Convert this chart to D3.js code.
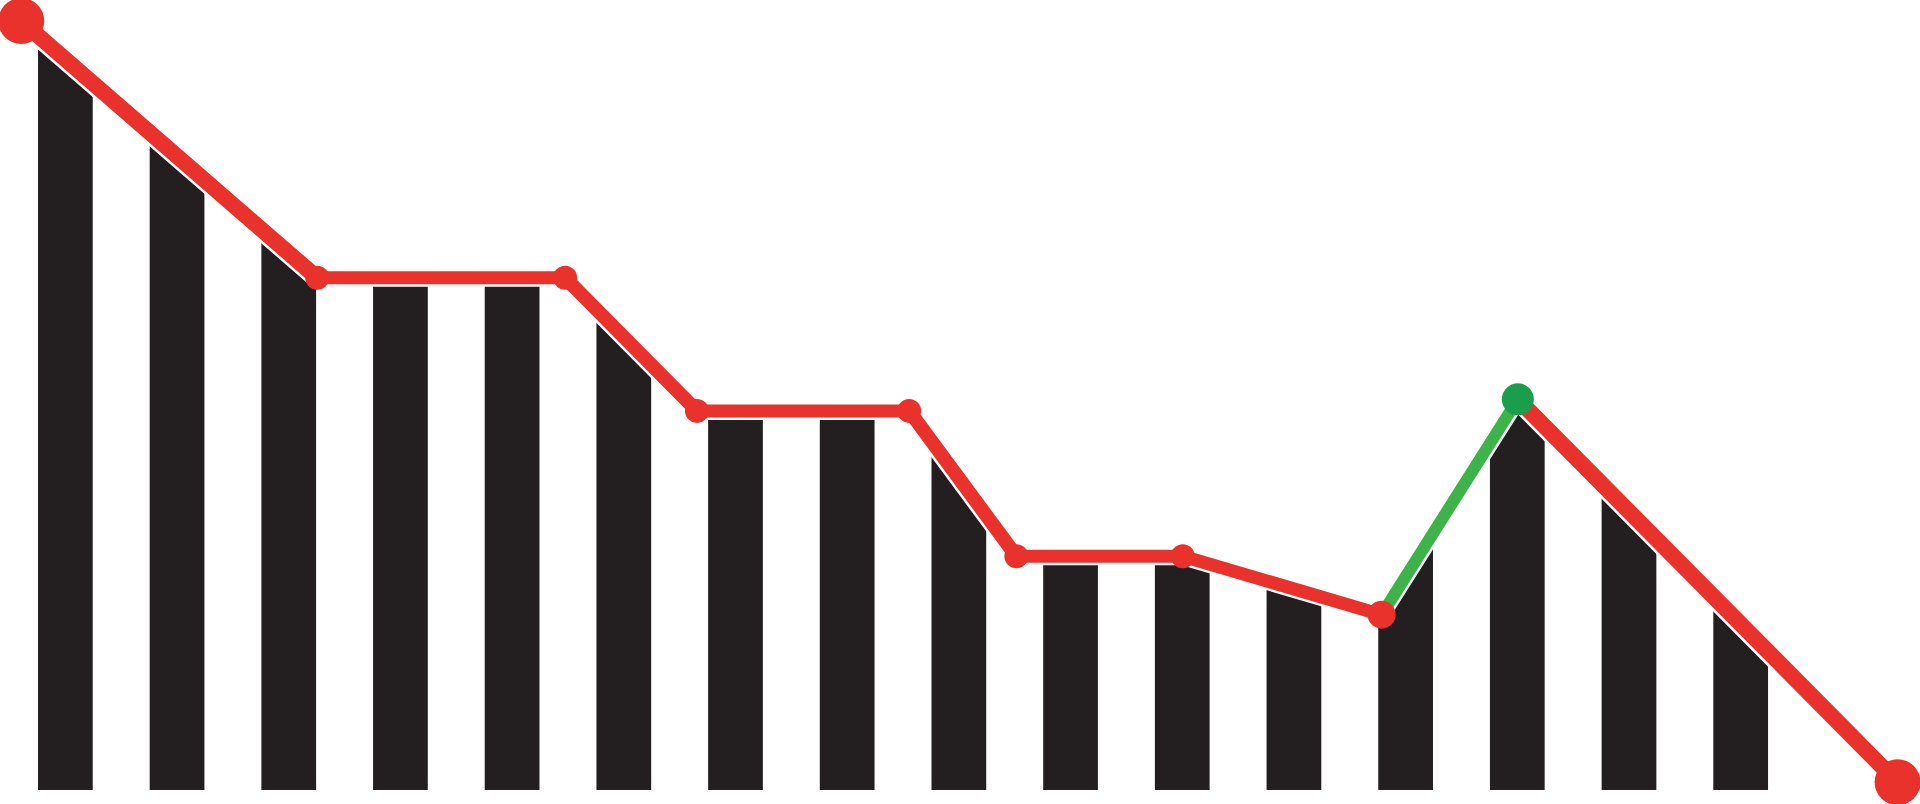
<!DOCTYPE html>
<html>
<head>
<meta charset="utf-8">
<script src="https://cdn.jsdelivr.net/npm/d3@7"></script>
<style>
  html, body { margin: 0; padding: 0; background: #fff; }
  svg { display: block; }
</style>
</head>
<body>
<div id="wrapper"></div>
<script>
// bars: 16 columns, cut off by the trend line
const barIndex = d3.range(16)

// trend line points: position in column units, value 0-100
const linePos = [-0.15, 2.5, 4.72, 5.9, 7.8, 8.76, 10.25, 12.03, 13.25, 16.65]
const lineVal = [100, 66.6, 66.6, 49.3, 49.3, 30.4, 30.4, 22.8, 50.8, 1.0]
// which segment goes up (drawn green)
const segUp = [false, false, false, false, false, false, false, true, false]

const width = 1920
const height = 804

const svg = d3.select("#wrapper")
    .append("svg")
    .attr("width", width)
    .attr("height", height)

const xScale = d3.scaleLinear()
    .domain([0, 16])
    .range([38, 1825])

const yScale = d3.scaleLinear()
    .domain([0, 100])
    .range([790, 21])

const barW = xScale(0.49) - xScale(0)
const points = linePos.map((p, i) => ({ p, v: lineVal[i] }))

// stroke widths per segment and dot radii (styles only)
const segWidth = [16, 13, 14, 13, 14, 13, 13, 12, 16]
const dotR = [23, 12, 12, 12, 12, 12, 12, 14, 16, 23]

const red = "#e8322b"
const green = "#3cb44a"
const greenDot = "#1b9e4b"

// clip the bars to the area under the line
const area = d3.area()
    .x(d => xScale(d.p))
    .y0(yScale(0) + 20)
    .y1(d => yScale(d.v))

svg.append("defs")
    .append("clipPath")
    .attr("id", "under-line")
    .append("path")
    .attr("d", area(points))

svg.append("g")
    .attr("clip-path", "url(#under-line)")
    .selectAll("rect")
    .data(barIndex)
    .enter()
    .append("rect")
    .attr("x", d => xScale(d))
    .attr("y", yScale(100))
    .attr("width", barW)
    .attr("height", yScale(0) - yScale(100))
    .attr("fill", "#231f20")

const segments = d3.pairs(points).map((pair, i) => ({ pair, i }))
const line = d3.line()
    .x(d => xScale(d.p))
    .y(d => yScale(d.v))

// white halo so the bars stop just short of the line
svg.append("g")
    .selectAll("path")
    .data(segments)
    .enter()
    .append("path")
    .attr("d", d => line(d.pair))
    .attr("fill", "none")
    .attr("stroke", "#fff")
    .attr("stroke-width", d => segWidth[d.i] + 5)
    .attr("stroke-linecap", "round")

svg.append("g")
    .selectAll("path")
    .data(segments)
    .enter()
    .append("path")
    .attr("d", d => line(d.pair))
    .attr("fill", "none")
    .attr("stroke", d => segUp[d.i] ? green : red)
    .attr("stroke-width", d => segWidth[d.i])
    .attr("stroke-linecap", "round")

svg.append("g")
    .selectAll("circle")
    .data(points)
    .enter()
    .append("circle")
    .attr("cx", d => xScale(d.p))
    .attr("cy", d => yScale(d.v))
    .attr("r", (d, i) => dotR[i])
    .attr("fill", (d, i) => (i > 0 && segUp[i - 1]) ? greenDot : red)
</script>
</body>
</html>
